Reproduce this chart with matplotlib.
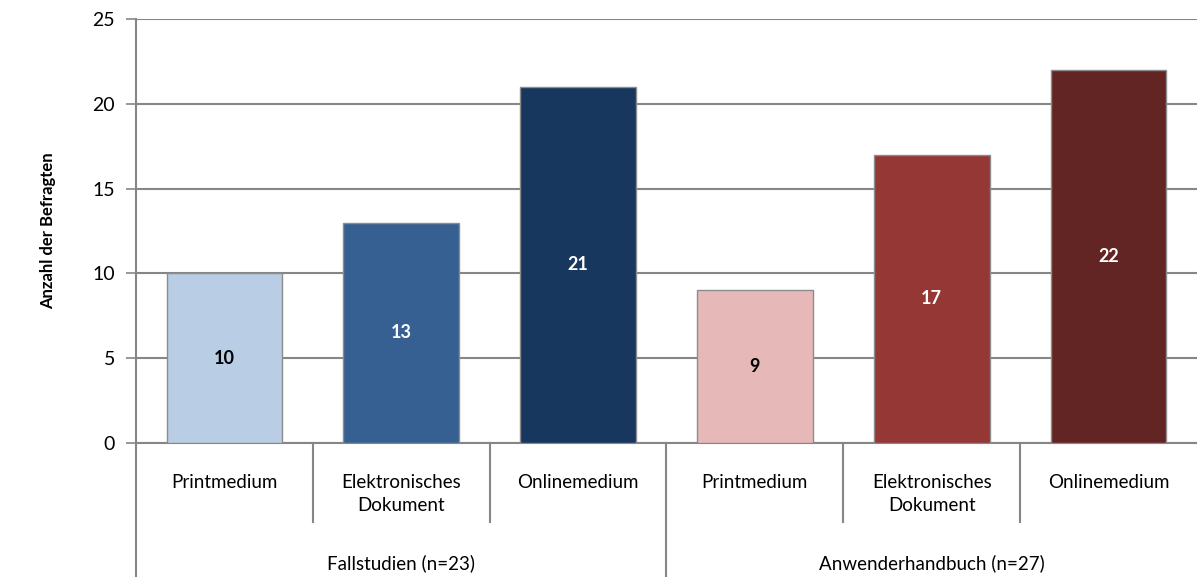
import matplotlib.pyplot as plt
import matplotlib.transforms as mtransforms

# data
categories = ["Printmedium", "Elektronisches\nDokument", "Onlinemedium",
              "Printmedium", "Elektronisches\nDokument", "Onlinemedium"]
groups = ["Fallstudien (n=23)", "Anwenderhandbuch (n=27)"]
values = [10, 13, 21, 9, 17, 22]
colors = ["#B9CDE5", "#376092", "#17375E", "#E6B9B8", "#953735", "#632523"]
label_colors = ["black", "white", "white", "black", "white", "white"]

plt.rcParams['font.family'] = ['Lato', 'DejaVu Sans']
grid_col = "#868686"

fig = plt.figure(figsize=(11.97, 5.77), dpi=100)
W, H = 1197, 577
ax = fig.add_axes([136 / W, 1 - 443 / H, 1 - 136 / W, (443 - 19) / H])

x = list(range(len(values)))
bars = ax.bar(x, values, width=0.655, color=colors, edgecolor="#8C8C8C",
              linewidth=1, zorder=3)
for b, v, c in zip(bars, values, label_colors):
    ax.text(b.get_x() + b.get_width() / 2, v / 2, str(v), ha="center",
            va="center", fontsize=13, fontweight="bold", color=c, zorder=4)

ax.set_xlim(-0.5, 5.5)
ax.set_ylim(0, 25)
ax.set_yticks([0, 5, 10, 15, 20, 25])
ax.yaxis.grid(True, color=grid_col, linewidth=1.5, zorder=0)
ax.set_xticks([])
ax.tick_params(axis="y", length=7, width=1.2, color=grid_col, pad=8,
               labelsize=14)
for s in ["top", "right"]:
    ax.spines[s].set_visible(False)
for s in ["left", "bottom"]:
    ax.spines[s].set_color(grid_col)
    ax.spines[s].set_linewidth(1.5)

ax.set_ylabel("Anzahl der Befragten", fontsize=12, fontweight="bold",
              labelpad=26)

# multi-level x axis
trans = mtransforms.blended_transform_factory(ax.transData, ax.transAxes)
low = -(522 - 443) / 424
deep = -(577 - 443) / 424 - 0.01
for i in range(1, 6):
    y1 = deep if i == 3 else low
    ax.plot([i - 0.5, i - 0.5], [0, y1], color=grid_col, lw=1.5,
            transform=trans, clip_on=False)
ax.plot([-0.5, -0.5], [0, deep], color=grid_col, lw=1.5,
        transform=trans, clip_on=False)

for xi, cat in zip(x, categories):
    ax.text(xi, -(474 - 443) / 424, cat, transform=trans, ha="center",
            va="top", fontsize=13.5, linespacing=1.45)
for gi, g in enumerate(groups):
    ax.text(gi * 3 + 1, -(563 - 443) / 424, g, transform=trans,
            ha="center", va="center", fontsize=13.5)

fig.savefig("out.png", dpi=100)
